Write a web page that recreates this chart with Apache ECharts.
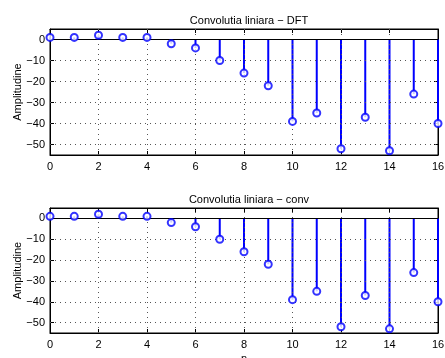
<!DOCTYPE html>
<html>
<head>
<meta charset="utf-8">
<script src="https://cdn.jsdelivr.net/npm/echarts@6/dist/echarts.min.js"></script>
<style>
html, body { margin: 0; padding: 0; background: #fff; }
#main { width: 445px; height: 358px; }
</style>
</head>
<body>
<div id="main"></div>
<script>
// sample index n
var nValues = [0, 1, 2, 3, 4, 5, 6, 7, 8, 9, 10, 11, 12, 13, 14, 15, 16];
// linear convolution via DFT
var convDft = [1, 1, 2, 1, 1, -2, -4, -10, -16, -22, -39, -35, -52, -37, -53, -26, -40];
// linear convolution via conv()
var convDirect = [1, 1, 2, 1, 1, -2, -4, -10, -16, -22, -39, -35, -52, -37, -53, -26, -40];
var yTicks = [-50, -40, -30, -20, -10, 0];
var xTicks = [0, 2, 4, 6, 8, 10, 12, 14, 16];
var titles = ['Convolutia liniara \u2212 DFT', 'Convolutia liniara \u2212 conv'];

var font = '"Liberation Sans", Arial, sans-serif';
var blue = '#0000ff';

var grids = [
    { left: 50, right: 7, top: 29, height: 126 },
    { left: 50, right: 7, top: 208, height: 125 }
];

function pairs(ys) {
    return nValues.map(function (n, i) { return [n, ys[i]]; });
}

var option = {
    animation: false,
    title: titles.map(function (t, i) {
        return {
            text: t, left: 244, textAlign: 'center', top: i === 0 ? 10 : 189,
            textStyle: { fontFamily: font, fontSize: 11, fontWeight: 'normal', color: '#000' }
        };
    }),
    grid: grids.map(function (g) {
        return Object.assign({ show: true, borderColor: '#000', borderWidth: 1, outerBoundsMode: 'none' }, g);
    }),
    xAxis: [],
    yAxis: [],
    series: []
};

[convDft, convDirect].forEach(function (data, gi) {
    // bottom and left axes with labels
    option.xAxis.push({
        type: 'value', gridIndex: gi, min: 0, max: 16, interval: 2, position: 'bottom',
        name: gi === 1 ? 'n' : '', nameLocation: 'middle', nameGap: 20, nameMoveOverlap: false,
        nameTextStyle: { fontFamily: font, fontSize: 11, color: '#000' },
        axisLine: { onZero: false, lineStyle: { color: '#000' } },
        axisTick: { inside: true, length: 4, lineStyle: { color: '#000' } },
        axisLabel: { fontFamily: font, fontSize: 11, color: '#000', margin: 6 },
        splitLine: { show: false }
    });
    option.yAxis.push({
        type: 'value', gridIndex: gi, min: -55, max: 5, position: 'left',
        name: 'Amplitudine', nameLocation: 'middle', nameGap: 27, nameMoveOverlap: false,
        nameTextStyle: { fontFamily: font, fontSize: 11, color: '#000' },
        axisLine: { onZero: false, lineStyle: { color: '#000' } },
        axisTick: { inside: true, length: 4, customValues: yTicks, lineStyle: { color: '#000' } },
        axisLabel: {
            fontFamily: font, fontSize: 11, color: '#000', margin: 5, customValues: yTicks,
            formatter: function (v) { return v < 0 ? '\u2212' + (-v) : String(v); }
        },
        splitLine: { show: false }
    });
    // stems
    option.series.push({
        type: 'bar', xAxisIndex: gi, yAxisIndex: gi, data: pairs(data),
        barWidth: 2, itemStyle: { color: blue }, silent: true, z: 2,
        markLine: {
            silent: true, symbol: 'none', label: { show: false },
            data: yTicks.filter(function (v) { return v !== 0; }).map(function (v) {
                return { yAxis: v, lineStyle: { type: [1, 4], color: '#555', width: 1 } };
            }).concat(xTicks.slice(1, -1).map(function (v) {
                return { xAxis: v, lineStyle: { type: [1, 4], color: '#555', width: 1 } };
            })).concat([{ yAxis: 0, lineStyle: { type: 'solid', color: '#000', width: 1 } }])
        }
    });
    // stem heads
    option.series.push({
        type: 'scatter', xAxisIndex: gi, yAxisIndex: gi, data: pairs(data),
        symbol: 'emptyCircle', symbolSize: 7, silent: true, z: 5,
        itemStyle: { color: blue, borderColor: blue, borderWidth: 2 }
    });
});

// top and right tick-only axes
[0, 1].forEach(function (gi) {
    option.xAxis.push({
        type: 'value', gridIndex: gi, min: 0, max: 16, interval: 2, position: 'top',
        axisLine: { onZero: false, lineStyle: { color: '#000' } },
        axisTick: { inside: true, length: 4, lineStyle: { color: '#000' } },
        axisLabel: { show: false }, splitLine: { show: false }
    });
    option.yAxis.push({
        type: 'value', gridIndex: gi, min: -55, max: 5, position: 'right',
        axisLine: { onZero: false, lineStyle: { color: '#000' } },
        axisTick: { inside: true, length: 4, customValues: yTicks, lineStyle: { color: '#000' } },
        axisLabel: { show: false, customValues: yTicks }, splitLine: { show: false }
    });
});

var chart = echarts.init(document.getElementById('main'));
chart.setOption(option);
</script>
</body>
</html>
